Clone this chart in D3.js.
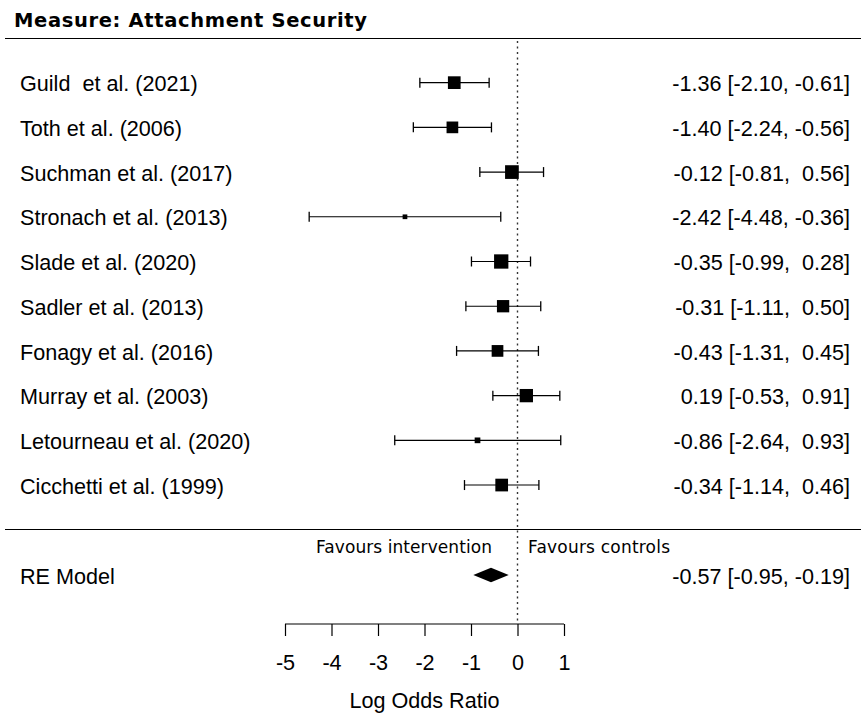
<!DOCTYPE html>
<html>
<head>
<meta charset="utf-8">
<script src="https://cdn.jsdelivr.net/npm/d3@7"></script>
<style>
  body { margin: 0; background: #fff; }
  svg text { white-space: pre; }
</style>
</head>
<body>
<div id="chart"></div>
<script>
// study data (log odds ratio, CI)
const studies = ['Guild  et al. (2021)', 'Toth et al. (2006)', 'Suchman et al. (2017)',
  'Stronach et al. (2013)', 'Slade et al. (2020)', 'Sadler et al. (2013)',
  'Fonagy et al. (2016)', 'Murray et al. (2003)', 'Letourneau et al. (2020)',
  'Cicchetti et al. (1999)'];
const estimates = [-1.36, -1.40, -0.12, -2.42, -0.35, -0.31, -0.43, 0.19, -0.86, -0.34];
const lower = [-2.10, -2.24, -0.81, -4.48, -0.99, -1.11, -1.31, -0.53, -2.64, -1.14];
const upper = [-0.61, -0.56, 0.56, -0.36, 0.28, 0.50, 0.45, 0.91, 0.93, 0.46];
// study weight -> square side (px)
const weights = [12.7, 11.7, 13.7, 4.7, 14.3, 12.3, 11.7, 13.3, 5.7, 12.7];
const reModel = { label: 'RE Model', est: -0.57, lo: -0.95, hi: -0.19 };
const xTicks = [-5, -4, -3, -2, -1, 0, 1];

const W = 861, H = 715;
const SANS = 'Liberation Sans, Arial, Helvetica, sans-serif';
const VERD = 'DejaVu Sans, Verdana, sans-serif';
const FS = 21.6;

const locale = d3.formatLocale({
  decimal: '.', thousands: ',', grouping: [3], currency: ['', ''], minus: '-',
});
const fmt = locale.format('.2f');
const pad = (v) => (v >= 0 ? ' ' : '') + fmt(v);

const svg = d3.select('#chart').append('svg')
  .attr('width', W).attr('height', H);

const x = d3.scaleLinear().domain([-5, 1]).range([285, 564]);
const y = d3.scaleBand().domain(studies).range([60.3, 507.4]);
const yc = (d) => y(d) + y.bandwidth() / 2;

// title
svg.append('text')
  .attr('x', 14).attr('y', 27)
  .attr('font-family', VERD)
  .attr('font-weight', 'bold').attr('font-size', 19.5)
  .attr('textLength', 353).attr('lengthAdjust', 'spacing')
  .text('Measure: Attachment Security');
svg.append('line')
  .attr('x1', 5).attr('x2', W).attr('y1', 38.5).attr('y2', 38.5)
  .attr('stroke', '#000').attr('stroke-width', 1.2);

// zero reference
svg.append('line')
  .attr('x1', x(0)).attr('x2', x(0)).attr('y1', 41).attr('y2', 624)
  .attr('stroke', '#333').attr('stroke-width', 1.4)
  .attr('stroke-dasharray', '2 3.5');

const rows = studies.map((s, i) => ({
  s, est: estimates[i], lo: lower[i], hi: upper[i], w: weights[i],
}));

const row = svg.append('g').selectAll('.row').data(rows).join('g').attr('class', 'row');

row.append('text')
  .attr('x', 20).attr('y', (d) => yc(d.s)).attr('dy', '0.4em')
  .attr('font-family', SANS).attr('font-size', FS)
  .text((d) => d.s);

row.append('line')
  .attr('x1', (d) => x(d.lo)).attr('x2', (d) => x(d.hi))
  .attr('y1', (d) => yc(d.s)).attr('y2', (d) => yc(d.s))
  .attr('stroke', '#000').attr('stroke-width', 1.1);
['lo', 'hi'].forEach((k) => {
  row.append('line')
    .attr('x1', (d) => x(d[k])).attr('x2', (d) => x(d[k]))
    .attr('y1', (d) => yc(d.s) - 5).attr('y2', (d) => yc(d.s) + 5)
    .attr('stroke', '#000').attr('stroke-width', 1.3);
});
row.append('rect')
  .attr('x', (d) => x(d.est) - d.w / 2).attr('y', (d) => yc(d.s) - d.w / 2)
  .attr('width', (d) => d.w).attr('height', (d) => d.w)
  .attr('fill', '#000');

row.append('text')
  .attr('x', 850).attr('y', (d) => yc(d.s)).attr('dy', '0.4em')
  .attr('text-anchor', 'end')
  .attr('font-family', SANS).attr('font-size', FS)
  .text((d) => `${fmt(d.est)} [${pad(d.lo)}, ${pad(d.hi)}]`);

// separator
svg.append('line')
  .attr('x1', 5).attr('x2', W).attr('y1', 529.5).attr('y2', 529.5)
  .attr('stroke', '#000').attr('stroke-width', 1.2);

// favours labels
svg.append('text')
  .attr('x', 316).attr('y', 553)
  .attr('font-family', VERD).attr('font-size', 17)
  .attr('textLength', 176).attr('lengthAdjust', 'spacing')
  .text('Favours intervention');
svg.append('text')
  .attr('x', 528).attr('y', 553)
  .attr('font-family', VERD).attr('font-size', 17)
  .attr('textLength', 142).attr('lengthAdjust', 'spacing')
  .text('Favours controls');

// RE model
const reY = 575;
svg.append('text')
  .attr('x', 20).attr('y', reY).attr('dy', '0.4em')
  .attr('font-family', SANS).attr('font-size', FS)
  .text(reModel.label);
svg.append('path')
  .attr('d', `M${x(reModel.lo)},${reY} L${x(reModel.est)},${reY - 7.3} L${x(reModel.hi)},${reY} L${x(reModel.est)},${reY + 7.3} Z`)
  .attr('fill', '#000');
svg.append('text')
  .attr('x', 850).attr('y', reY).attr('dy', '0.4em').attr('text-anchor', 'end')
  .attr('font-family', SANS).attr('font-size', FS)
  .text(`${fmt(reModel.est)} [${pad(reModel.lo)}, ${pad(reModel.hi)}]`);

// x axis
const ax = svg.append('g')
  .attr('transform', 'translate(0,624)')
  .call(d3.axisBottom(x).tickValues(xTicks).tickSize(12).tickSizeOuter(0)
    .tickFormat(locale.format('d')));
ax.select('.domain').attr('stroke-width', 1.2).attr('d', `M${x(-5)},0H${x(1)}`);
ax.selectAll('.tick line').attr('stroke-width', 1.2);
ax.selectAll('.tick text')
  .attr('font-family', SANS).attr('font-size', FS)
  .attr('fill', '#000').attr('y', 46).attr('dy', null);

svg.append('text')
  .attr('x', x(-2)).attr('y', 708).attr('text-anchor', 'middle')
  .attr('font-family', SANS).attr('font-size', FS)
  .text('Log Odds Ratio');
</script>
</body>
</html>
